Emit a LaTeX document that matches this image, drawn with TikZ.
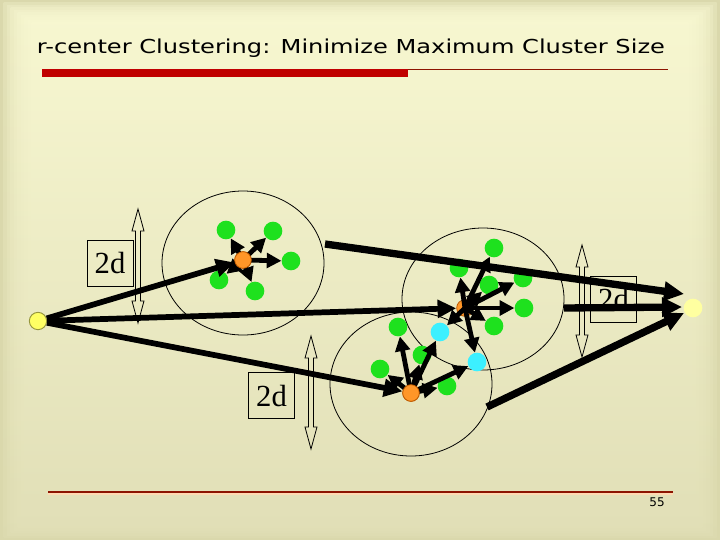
\documentclass[tikz,border=0pt]{standalone}
\usepackage{fontspec}
\usepackage{graphicx}
\usetikzlibrary{arrows.meta}
\newfontfamily\titlefont{DejaVu Sans}
\newfontfamily\seriffont{Liberation Serif}
\newfontfamily\smallsans{DejaVu Sans}
\definecolor{bgedge}{RGB}{218,216,172}
\definecolor{bgtop}{RGB}{250,250,212}
\definecolor{bgmid}{RGB}{249,249,208}
\definecolor{bgbot}{RGB}{228,226,186}
\definecolor{barred}{RGB}{192,0,0}
\definecolor{linered}{RGB}{140,20,0}
\definecolor{ptgreen}{RGB}{30,225,30}
\definecolor{ptorange}{RGB}{255,150,40}
\definecolor{ptorangeb}{RGB}{190,90,0}
\definecolor{ptcyan}{RGB}{60,240,255}
\definecolor{ptyellow}{RGB}{255,255,100}
\definecolor{ptyellowb}{RGB}{150,150,60}
\definecolor{ptyellowr}{RGB}{255,255,160}
\newcommand{\twodarrow}[3]{%
  \draw[darr] (#1,#2) -- (#1+6,#2+22) -- (#1+2.5,#2+22) -- (#1+2.5,#3-22) -- (#1+6,#3-22)
   -- (#1,#3) -- (#1-6,#3-22) -- (#1-2.5,#3-22) -- (#1-2.5,#2+22) -- (#1-6,#2+22) -- cycle;}
\begin{document}
\begin{tikzpicture}[x=0.75pt,y=-0.75pt,
  green/.style={circle,fill=ptgreen,inner sep=0,minimum size=14pt},
  cyanpt/.style={circle,fill=ptcyan,inner sep=0,minimum size=14pt},
  orangept/.style={circle,fill=ptorange,draw=ptorangeb,line width=0.6pt,inner sep=0,minimum size=12.5pt},
  yellowl/.style={circle,fill=ptyellow,draw=ptyellowb,line width=0.7pt,inner sep=0,minimum size=13pt},
  yellowr/.style={circle,fill=ptyellowr,inner sep=0,minimum size=14pt},
  sarr/.style={line width=3.6pt,-{Triangle[length=11pt,width=11pt]}},
  larr/.style={line width=4.3pt,-{Triangle[length=14pt,width=13pt]}},
  rarr/.style={line width=5.5pt,-{Triangle[length=15pt,width=14pt]}},
  ring/.style={draw=black,line width=0.6pt},
  darr/.style={draw=black,line width=0.6pt},
  dbox/.style={draw=black,line width=0.6pt,minimum width=34.5pt,minimum height=34.5pt,inner sep=0,font=\seriffont\fontsize{23}{23}\selectfont}
]
\useasboundingbox (0,0) rectangle (720,540);
% background
\fill[bgedge] (0,0) rectangle (720,540);
\foreach \k in {1,...,9}{
  \shade[top color=bgtop,middle color=bgmid,bottom color=bgbot,opacity=0.28]
    (\k*3.5,\k*2.5) rectangle (720-\k*3.5,540-\k*2.5);
}
% header
\node (title) at (351,48) {\resizebox{471pt}{\height}{\titlefont\fontsize{14.4}{16}\selectfont r-center Clustering: Minimize Maximum Cluster Size}};
\fill[barred] (42,69) rectangle (408,77);
\draw[linered,line width=0.8pt] (408,69.5) -- (668,69.5);
% footer
\draw[white!70!orange,line width=1.2pt] (48,494) -- (673,494);
\draw[linered,line width=1pt] (48,492) -- (673,492);
\node (pagenum) at (657,502) {\smallsans\fontsize{9}{10}\selectfont 55};
% clusters
\draw[ring] (243,263) ellipse [x radius=81,y radius=72];
\draw[ring] (483,299) ellipse [x radius=81,y radius=71];
\draw[ring] (411,384) ellipse [x radius=81,y radius=72];
% 2d boxes and double arrows
\node[dbox] (b1) at (110,263) {2d};
\node[dbox] (b2) at (271.5,395.5) {2d};
\node[dbox] (b3) at (613.5,299.5) {2d};
\twodarrow{138}{209}{323}
\twodarrow{311}{336}{449}
\twodarrow{582}{245}{357}
% points
\node[yellowl] (y1) at (38,321) {};
\node[yellowr] (y2) at (693,308) {};
\node[green] (g11) at (226,230) {};
\node[green] (g12) at (273,231) {};
\node[green] (g13) at (291,261) {};
\node[green] (g14) at (219,280) {};
\node[green] (g15) at (255,291) {};
\node[green] (g21) at (494,248) {};
\node[green] (g22) at (459,268) {};
\node[green] (g23) at (489,285) {};
\node[green] (g24) at (523,278) {};
\node[green] (g25) at (524,308) {};
\node[green] (g26) at (494,326) {};
\node[green] (g31) at (380,369) {};
\node[green] (g32) at (398,327) {};
\node[green] (g33) at (422,355) {};
\node[green] (g34) at (447,386) {};
\node[cyanpt] (c1) at (440,332) {};
\node[cyanpt] (c2) at (477,362) {};
\node[orangept] (o1) at (243,260) {};
\node[orangept] (o2) at (465,308) {};
\node[orangept] (o3) at (411,393) {};
% small arrows
\foreach \t in {g11,g12,g13,g14,g15} \draw[sarr] (o1.center) -- (\t);
\foreach \t in {g21,g22,g23,g24,g25,g26,c1,c2} \draw[sarr] (o2.center) -- (\t);
\foreach \t in {g31,g32,g33,g34,c1,c2} \draw[sarr] (o3.center) -- (\t);
% big arrows from left point
\draw[larr] (y1) -- (o1);
\draw[larr] (y1) -- (o2);
\draw[larr] (y1) -- (o3);
% big arrows to right point
\coordinate (s1) at (325,244);
\coordinate (s2) at (564,308);
\coordinate (s3) at (487,407);
\coordinate (e1) at (684,294);
\coordinate (e2) at (682,307);
\coordinate (e3) at (684,313);
\draw[rarr] (s1) -- (e1);
\draw[rarr] (s2) -- (e2);
\draw[rarr] (s3) -- (e3);
% redraw centers on top
\node[orangept] at (o1) {};
\node[orangept] at (o3) {};
\end{tikzpicture}
\end{document}
